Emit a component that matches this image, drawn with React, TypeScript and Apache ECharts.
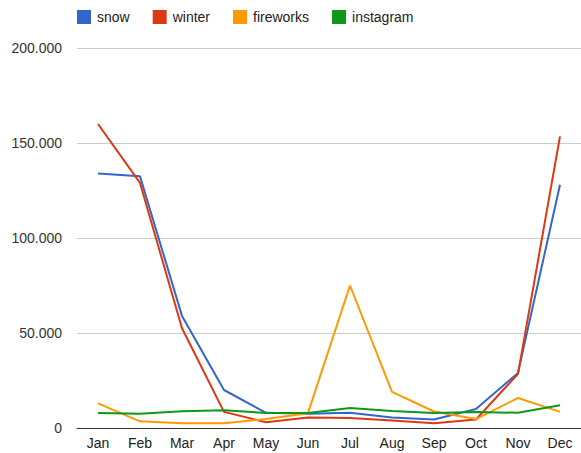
import React, { useEffect, useRef } from "react";
import * as echarts from "echarts";

const months = ["Jan", "Feb", "Mar", "Apr", "May", "Jun", "Jul", "Aug", "Sep", "Oct", "Nov", "Dec"];
const snow = [134000, 132500, 59000, 20000, 8000, 7500, 8000, 5500, 4500, 10000, 29000, 128000];
const winter = [160000, 129000, 52500, 8500, 3000, 5500, 5300, 4000, 2500, 4500, 28500, 153500];
const fireworks = [13000, 3500, 2500, 2500, 4700, 7800, 75000, 19000, 8700, 4700, 15800, 8500];
const instagram = [7900, 7500, 8800, 9300, 7900, 7900, 10500, 9000, 7900, 8400, 8000, 12000];
const seriesNames = ["snow", "winter", "fireworks", "instagram"];
const colors = ["#3366cc", "#dc3912", "#ff9900", "#109618"];

const font = "Arial, 'Liberation Sans', sans-serif";

const fmtThousands = (v: number) =>
  String(Math.round(v)).replace(/\B(?=(\d{3})+(?!\d))/g, ".");

export default function App() {
  const ref = useRef<HTMLDivElement>(null);

  useEffect(() => {
    if (!ref.current) return;
    const chart = echarts.init(ref.current, null, { renderer: "svg" });
    const data = [snow, winter, fireworks, instagram];
    chart.setOption({
      animation: false,
      color: colors,
      textStyle: { fontFamily: font },
      legend: {
        left: 77,
        top: 10,
        padding: 0,
        itemWidth: 14,
        itemHeight: 14,
        itemGap: 23,
        icon: "rect",
        data: seriesNames,
        textStyle: { fontSize: 14, color: "#222222", fontFamily: font, padding: [0, 0, 0, 1] },
      },
      grid: { left: 77, right: 0, top: 48, bottom: 25, containLabel: false },
      xAxis: {
        type: "category",
        data: months,
        boundaryGap: true,
        axisLine: { lineStyle: { color: "#333333", width: 1 } },
        axisTick: { show: false },
        axisLabel: { fontSize: 14, color: "#222222", margin: 8, fontFamily: font },
        splitLine: { show: false },
      },
      yAxis: {
        type: "value",
        min: 0,
        max: 200000,
        interval: 50000,
        axisLine: { show: false },
        axisTick: { show: false },
        axisLabel: {
          fontSize: 14,
          color: "#333333",
          margin: 15,
          fontFamily: font,
          formatter: (v: number) => fmtThousands(v),
        },
        splitLine: { lineStyle: { color: "#cccccc", width: 1 } },
      },
      series: seriesNames.map((name, i) => ({
        name,
        type: "line",
        data: data[i],
        showSymbol: false,
        symbol: "none",
        lineStyle: { width: 2, color: colors[i] },
        itemStyle: { color: colors[i] },
        z: 2 + i,
      })),
    });
    return () => chart.dispose();
  }, []);

  return (
    <div
      ref={ref}
      style={{ position: "fixed", left: 0, top: 0, width: 581, height: 453, background: "#ffffff" }}
    />
  );
}
